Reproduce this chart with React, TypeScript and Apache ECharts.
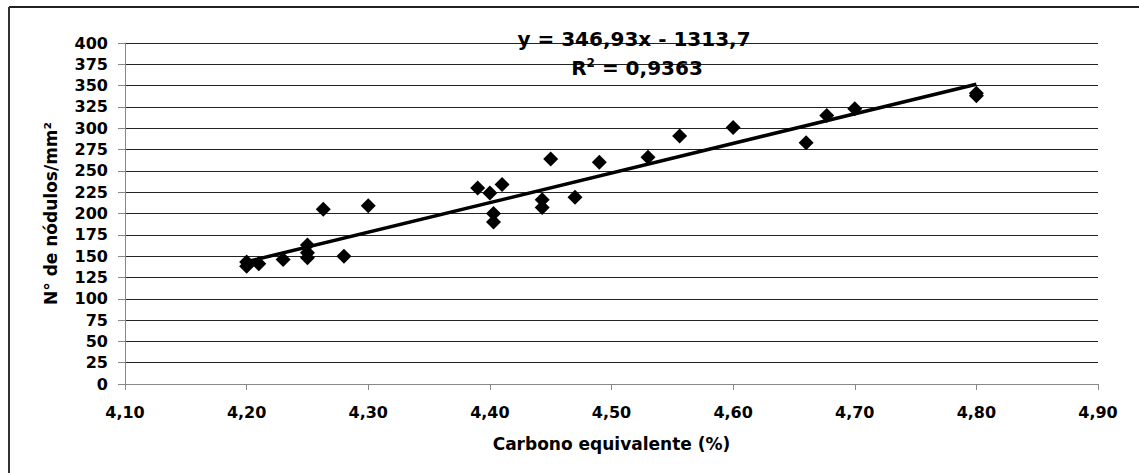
import React, { useEffect, useRef } from "react";
import * as echarts from "echarts";

const carbonValues = [
  4.2, 4.2, 4.21, 4.23, 4.25, 4.25, 4.25, 4.263, 4.28, 4.3, 4.39, 4.4, 4.41, 4.403,
  4.403, 4.443, 4.443, 4.45, 4.47, 4.49, 4.53, 4.556, 4.6, 4.66, 4.677, 4.7, 4.8, 4.8,
];
const noduleValues = [
  138, 143, 141, 146, 163, 154, 148, 205, 150, 209, 230, 224, 234, 200, 190, 216, 207,
  264, 219, 260, 266, 291, 301, 283, 315, 323, 338, 341,
];
const trendX = [4.2, 4.8];
const trendY = [143.4, 351.6];
const equationText = "y = 346,93x - 1313,7";
const r2Base = "R";
const r2Sup = "2";
const r2Rest = " = 0,9363";
const xTitle = "Carbono equivalente (%)";
const yTitle = "N° de nódulos/mm²";

const FONT = "DejaVu Sans";

export default function App() {
  const ref = useRef<HTMLDivElement>(null);
  useEffect(() => {
    if (!ref.current) return;
    const chart = echarts.init(ref.current, null, { renderer: "svg" });
    const scatterData = carbonValues.map((x, i) => [x, noduleValues[i]]);
    const trendData = trendX.map((x, i) => [x, trendY[i]]);
    chart.setOption({
      animation: false,
      backgroundColor: "#fff",
      grid: { left: 125, right: 41, top: 43, bottom: 89 },
      xAxis: {
        type: "value",
        min: 4.1,
        max: 4.9,
        interval: 0.1,
        name: xTitle,
        nameLocation: "middle",
        nameGap: 51,
        nameTextStyle: { fontFamily: FONT, fontWeight: "bold", fontSize: 17, color: "#000" },
        axisLine: { show: true, lineStyle: { color: "#888", width: 1 } },
        axisTick: { show: true, length: 6, lineStyle: { color: "#888" } },
        axisLabel: {
          margin: 20,
          fontFamily: FONT,
          fontWeight: "bold",
          fontSize: 16,
          color: "#000",
          formatter: (v: number) => v.toFixed(2).replace(".", ","),
        },
        splitLine: { show: false },
      },
      yAxis: {
        type: "value",
        min: 0,
        max: 400,
        interval: 25,
        name: yTitle,
        nameLocation: "middle",
        nameGap: 66,
        nameTextStyle: { fontFamily: FONT, fontWeight: "bold", fontSize: 17, color: "#000" },
        axisLine: { show: true, lineStyle: { color: "#888", width: 1 } },
        axisTick: { show: true, length: 7, lineStyle: { color: "#888" } },
        axisLabel: {
          margin: 17,
          fontFamily: FONT,
          fontWeight: "bold",
          fontSize: 16,
          color: "#000",
        },
        splitLine: { show: true, lineStyle: { color: "#222", width: 1 } },
      },
      graphic: [
        { type: "line", shape: { x1: 9, y1: 7, x2: 1139, y2: 7 }, style: { stroke: "#222", lineWidth: 2 } },
        { type: "line", shape: { x1: 9, y1: 7, x2: 9, y2: 473 }, style: { stroke: "#333", lineWidth: 2 } },
        {
          type: "text",
          x: 634,
          y: 39,
          z: 10,
          style: {
            text: equationText,
            fontFamily: FONT,
            fontWeight: "bold",
            fontSize: 20,
            fill: "#000",
            align: "center",
            verticalAlign: "middle",
          },
        },
        {
          type: "text",
          x: 637,
          y: 68,
          z: 10,
          style: {
            text: "{b|" + r2Base + "}{s|" + r2Sup + "}{b|" + r2Rest + "}",
            fill: "#000",
            align: "center",
            verticalAlign: "middle",
            rich: {
              b: { fontFamily: FONT, fontWeight: "bold", fontSize: 20, fill: "#000" },
              s: {
                fontFamily: FONT,
                fontWeight: "bold",
                fontSize: 12,
                fill: "#000",
                verticalAlign: "top",
                padding: [0, 0, 10, 0],
              },
            },
          },
        },
      ],
      series: [
        {
          type: "scatter",
          data: scatterData,
          symbol: "diamond",
          symbolSize: 15,
          itemStyle: { color: "#000", opacity: 1 },
          z: 3,
        },
        {
          type: "line",
          data: trendData,
          symbol: "none",
          lineStyle: { color: "#000", width: 3.5 },
          z: 4,
        },
      ],
    });
    return () => chart.dispose();
  }, []);
  return (
    <div
      ref={ref}
      style={{ position: "fixed", left: 0, top: 0, width: 1139, height: 473, background: "#fff" }}
    />
  );
}
